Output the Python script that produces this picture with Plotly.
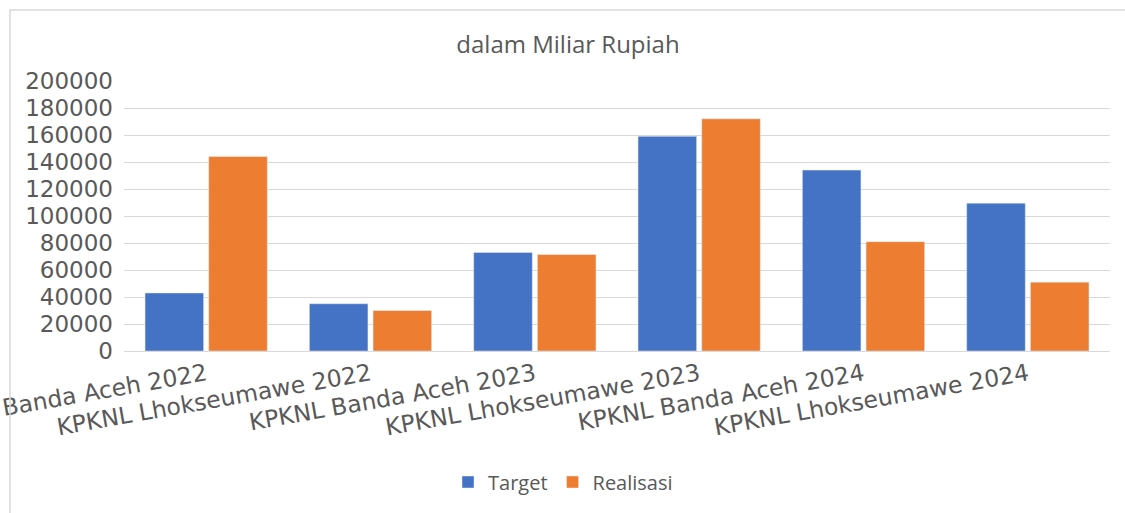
import plotly.graph_objects as go

categories = [
    "KPKNL Banda Aceh 2022",
    "KPKNL Lhokseumawe 2022",
    "KPKNL Banda Aceh 2023",
    "KPKNL Lhokseumawe 2023",
    "KPKNL Banda Aceh 2024",
    "KPKNL Lhokseumawe 2024",
]
target = [43000, 35000, 73000, 159000, 134000, 109500]
realisasi = [144000, 30000, 71500, 172000, 81000, 51000]
y_ticks = [0, 20000, 40000, 60000, 80000, 100000, 120000, 140000, 160000, 180000, 200000]

W, H = 1125, 513
L, R, T, B = 124, 15, 81, 162
pw, ph = W - L - R, H - T - B

def px_x(x):
    return (x - L) / pw

def px_y(y):
    return (H - B - y) / ph

fig = go.Figure()
fig.add_trace(go.Bar(name="Target", x=categories, y=target, marker_color="#4472C4"))
fig.add_trace(go.Bar(name="Realisasi", x=categories, y=realisasi, marker_color="#ED7D31"))

fig.update_layout(
    width=W, height=H,
    margin=dict(l=L, r=R, t=T, b=B, autoexpand=False),
    paper_bgcolor="white", plot_bgcolor="white",
    barmode="group", bargap=0.225, bargroupgap=0.08,
    title=dict(text="dalam Miliar Rupiah", x=568 / W, xanchor="center", xref="container",
               y=1 - 45 / H, yanchor="middle",
               font=dict(family="Open Sans", size=24, color="#595959")),
    legend=dict(orientation="h", x=px_x(563), xanchor="center", y=px_y(482), yanchor="middle",
                font=dict(family="Open Sans", size=20, color="#595959"), itemwidth=30,
                traceorder="normal"),
    font=dict(family="DejaVu Sans", color="#595959"),
    shapes=[dict(type="path", xref="paper", yref="paper",
                 path=f"M {px_x(10)} {px_y(530)} L {px_x(10)} {px_y(10)} L {px_x(1140)} {px_y(10)}",
                 line=dict(color="#d9d9d9", width=1.5))],
)
fig.update_xaxes(tickangle=-10, tickfont=dict(family="DejaVu Sans", size=23.5, color="#595959"),
                 showline=True, linecolor="#d9d9d9", linewidth=1, ticks="",
                 automargin=False, ticklabeloverflow="allow")
fig.update_yaxes(range=[0, 200000], tickvals=y_ticks, ticktext=[str(v) for v in y_ticks],
                 tickfont=dict(family="DejaVu Sans", size=23, color="#595959"),
                 showgrid=True, gridcolor="#d9d9d9", gridwidth=1, zeroline=False,
                 automargin=False, ticklabelstandoff=10)

fig.write_html("out.html", config={"displayModeBar": False},
               post_script="document.body.style.margin='0';")
